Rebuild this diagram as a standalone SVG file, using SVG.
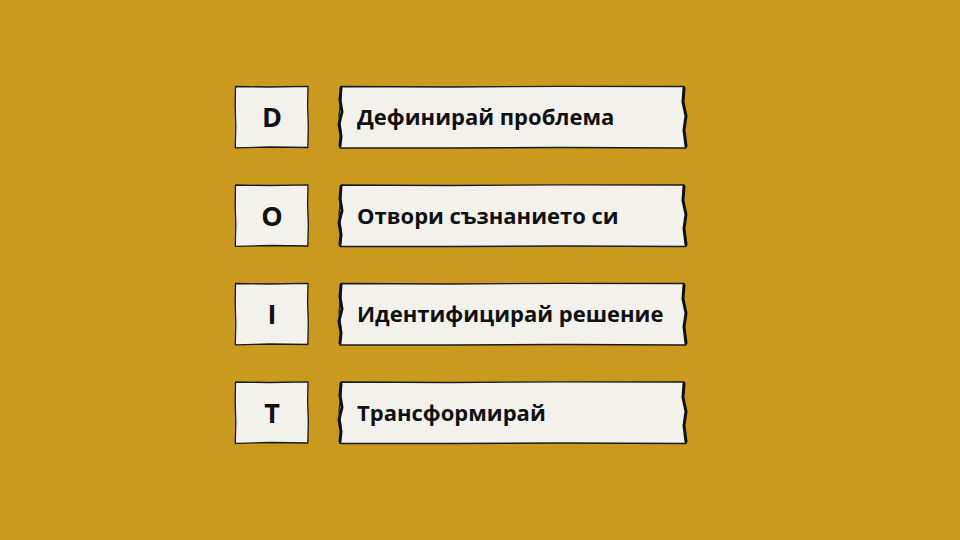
<svg xmlns="http://www.w3.org/2000/svg" width="960" height="540" viewBox="0 0 960 540">
<style>
.bg{fill:#C99A1E}
.box{fill:#F2F1EC;stroke:#1a1a1a;stroke-width:1.3;stroke-linejoin:round}
.edge{fill:none;stroke:#111;stroke-width:3;stroke-linecap:round}
.letter{font-family:"Open Sans","Liberation Sans",sans-serif;font-weight:700;font-size:27px;fill:#111;text-anchor:middle}
.label{font-family:"Open Sans","Liberation Sans",sans-serif;font-weight:700;font-size:22px;fill:#111}
</style>
<defs>
<g id="small">
<path class="box" d="M235.5,0.5 L270,1 L308,0.3 L307.6,20 L308.3,40 L307.8,61.5 L270,61 L235.3,61.8 L235.8,40 L235.2,20 Z"/>
</g>
<g id="large">
<path class="box" d="M341,0.5 L450,1 L560,0.3 L684,0.5 L683,15 L686,30 L684,45 L686,62 L560,61.5 L450,62 L340,62 L341,45 L339,30 L341,12 Z"/>
<path class="edge" d="M341,2 L340,14 L342,26 L339,38 L341,50 L340,60"/>
<path class="edge" d="M684,2 L683,16 L686,30 L684,44 L686,60"/>
</g>
</defs>
<rect class="bg" x="0" y="0" width="960" height="540"/>
<g id="row-D" transform="translate(0,86)">
<use href="#small"/><use href="#large"/>
<text class="letter" x="272" y="41">D</text>
<text class="label" x="357" y="39">Дефинирай проблема</text>
</g>
<g id="row-O" transform="translate(0,184.5)">
<use href="#small"/><use href="#large"/>
<text class="letter" x="272" y="41">O</text>
<text class="label" x="357" y="39">Отвори съзнанието си</text>
</g>
<g id="row-I" transform="translate(0,283)">
<use href="#small"/><use href="#large"/>
<text class="letter" x="272" y="41">I</text>
<text class="label" x="357" y="39">Идентифицирай решение</text>
</g>
<g id="row-T" transform="translate(0,381.5)">
<use href="#small"/><use href="#large"/>
<text class="letter" x="272" y="41">T</text>
<text class="label" x="357" y="39">Трансформирай</text>
</g>
<g id="connectors"/>
</svg>
